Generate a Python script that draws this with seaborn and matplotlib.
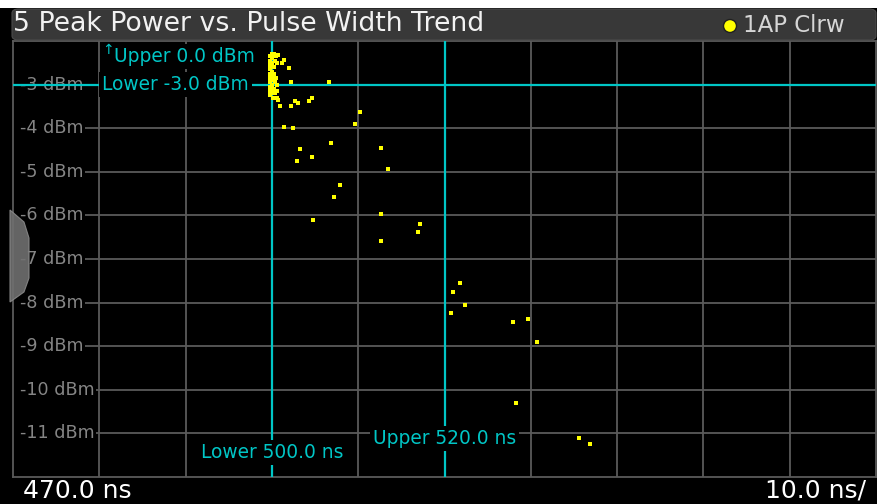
import matplotlib
matplotlib.use("Agg")
import matplotlib.pyplot as plt
import seaborn as sns
import pandas as pd
from matplotlib.patches import FancyBboxPatch, Rectangle, Polygon, Ellipse

# ---------------- data ----------------
title = "5 Peak Power vs. Pulse Width Trend"
trace_label = "1AP Clrw"
x_start_label = "470.0 ns"
x_div_label = "10.0 ns/"

pulse_width_ns = [
    499.75, 499.8, 499.75, 499.8, 499.75, 499.8, 499.75, 499.8, 499.75, 499.8,
    500.0, 500.05, 500.0, 500.05, 500.0, 500.05, 500.0, 500.05, 500.0, 500.05, 500.1,
    500.3, 500.45, 500.7, 500.35, 500.6, 500.3, 500.25, 500.45, 500.35, 500.6,
    500.3, 500.6, 500.4, 500.55, 500.7,
    501.45, 501.2, 501.98, 502.18,
    506.67, 500.94, 502.18, 502.68, 503.06, 504.26, 504.61, 510.17, 509.66,
    501.44, 502.48, 506.85, 512.61, 503.22, 504.61, 502.87, 513.49, 507.89,
    507.2, 512.61, 504.76, 517.13, 516.96, 512.61, 521.83, 520.95, 522.34,
    520.79, 527.94, 529.68, 530.72, 528.29, 535.59, 536.83,
]
peak_power_dbm = [
    -2.35, -2.45, -2.55, -2.65, -2.75, -2.85, -2.95, -3.05, -3.15, -3.25,
    -2.3, -2.4, -2.5, -2.6, -2.7, -2.8, -2.9, -3.0, -3.1, -3.2, -3.3,
    -2.3, -2.35, -2.32, -2.45, -2.5, -2.6, -2.75, -2.85, -2.95, -3.0,
    -3.1, -3.15, -3.2, -3.3, -3.35,
    -2.43, -2.5, -2.62, -2.93,
    -2.93, -3.48, -3.48, -3.38, -3.42, -3.38, -3.31, -3.62, -3.90,
    -3.97, -4.00, -4.35, -4.45, -4.48, -4.65, -4.76, -4.94, -5.31,
    -5.58, -5.97, -6.11, -6.20, -6.38, -6.59, -7.55, -7.76, -8.06,
    -8.24, -8.45, -8.38, -8.90, -10.31, -11.11, -11.24,
]

x_grid = [480, 490, 500, 510, 520, 530, 540, 550, 560]
y_ticks = [-3, -4, -5, -6, -7, -8, -9, -10, -11]
y_tick_labels = ["-3 dBm", "-4 dBm", "-5 dBm", "-6 dBm", "-7 dBm",
                 "-8 dBm", "-9 dBm", "-10 dBm", "-11 dBm"]

x_lower_line, x_upper_line = 500.0, 520.0
y_lower_line, y_upper_val = -3.0, 0.0
x_lower_label = "Lower 500.0 ns"
x_upper_label = "Upper 520.0 ns"
y_lower_label = "Lower -3.0 dBm"
y_upper_label = "Upper 0.0 dBm"

# ---------------- style ----------------
W, H = 877, 504
CYAN = "#00c6c6"
GRID = "#5a5a5a"
YELLOW = "#ffff00"

sns.set_style("dark")
plt.rcParams["font.family"] = ["DejaVu Sans"]

fig = plt.figure(figsize=(W / 100, H / 100), dpi=100, facecolor="black")

def fx(px):
    return px / W

def fy(py):
    return 1 - py / H

ax = fig.add_axes([fx(13), fy(477), fx(876) - fx(13), fy(41) - fy(477)])
ax.set_facecolor("black")
ax.set_xlim(470, 570)
ax.set_ylim(-12, -2)
ax.set_xticks([])
ax.set_yticks([])
ax.grid(False)
for s in ax.spines.values():
    s.set_color(GRID)
    s.set_linewidth(1.3)

# grid
for xv in x_grid:
    ax.axvline(xv, color=GRID, lw=1.3, zorder=1)
for yv in y_ticks:
    if yv != y_lower_line:
        ax.hlines(yv, 470.9, 570, color=GRID, lw=1.3, zorder=1)

# y labels inside plot
for yv, lab in zip(y_ticks, y_tick_labels):
    ax.text(470.85, yv, lab, ha="left", va="center", color="#858585",
            fontsize=12.6, zorder=2,
            bbox=dict(facecolor="black", edgecolor="none", pad=0.8))

# marker lines
ax.axvline(x_lower_line, color=CYAN, lw=1.6, zorder=3)
ax.axvline(x_upper_line, color=CYAN, lw=1.6, zorder=3)
ax.axhline(y_lower_line, color=CYAN, lw=1.6, zorder=3)

lab_kw = dict(color=CYAN, fontsize=13.4, zorder=4,
              bbox=dict(facecolor="black", edgecolor="none", pad=2.2))
ax.text(481.75, -2.36, y_upper_label, ha="left", va="center", **lab_kw)
ax.text(480.35, y_lower_line, y_lower_label, ha="left", va="center", **lab_kw)
ax.text(x_lower_line, -11.44, x_lower_label, ha="center", va="center", **lab_kw)
ax.text(x_upper_line, -11.12, x_upper_label, ha="center", va="center", **lab_kw)
ax.text(480.95, -2.2, "\u2191", ha="center", va="center", color=CYAN,
        fontsize=10, zorder=5)

# data points
df = pd.DataFrame({"Pulse Width (ns)": pulse_width_ns,
                   "Peak Power (dBm)": peak_power_dbm})
sns.scatterplot(data=df, x="Pulse Width (ns)", y="Peak Power (dBm)", ax=ax,
                marker="s", s=11, color=YELLOW, linewidth=0, zorder=6,
                legend=False)
ax.set_xlabel("")
ax.set_ylabel("")

# title bar
fig.patches.append(Rectangle((0, fy(8)), 1, 1 - fy(8), transform=fig.transFigure,
                             facecolor="white", edgecolor="none", zorder=1))
fig.patches.append(FancyBboxPatch((fx(12), fy(40)), fx(876) - fx(12), fy(9) - fy(40),
                                  boxstyle="round,pad=0,rounding_size=0.008",
                                  transform=fig.transFigure, facecolor="#383838",
                                  edgecolor="#4a4a4a", lw=0.8, zorder=2))
fig.text(fx(13), fy(24), title, ha="left", va="center", color="#f2f2f2",
         fontsize=19.3, zorder=3)
fig.text(fx(743), fy(25), trace_label, ha="left", va="center", color="#d6d6d6",
         fontsize=16.5, zorder=3)
fig.patches.append(Ellipse((fx(730), fy(26)), 13 / W, 13 / H,
                           transform=fig.transFigure, facecolor=YELLOW,
                           edgecolor="#202020", lw=1.0, zorder=3))

# side tab
tab = [(fx(10), fy(210)), (fx(24), fy(222)), (fx(29), fy(238)), (fx(29), fy(278)),
       (fx(24), fy(292)), (fx(10), fy(302))]
fig.patches.append(Polygon(tab, closed=True, transform=fig.transFigure,
                           facecolor="#707070", edgecolor="#8a8a8a", lw=0.8,
                           alpha=0.9, zorder=3))

# bottom labels
fig.text(fx(23), fy(491), x_start_label, ha="left", va="center", color="white",
         fontsize=18)
fig.text(fx(866), fy(491), x_div_label, ha="right", va="center", color="white",
         fontsize=18)

fig.savefig("out.png", dpi=100, facecolor="black")
